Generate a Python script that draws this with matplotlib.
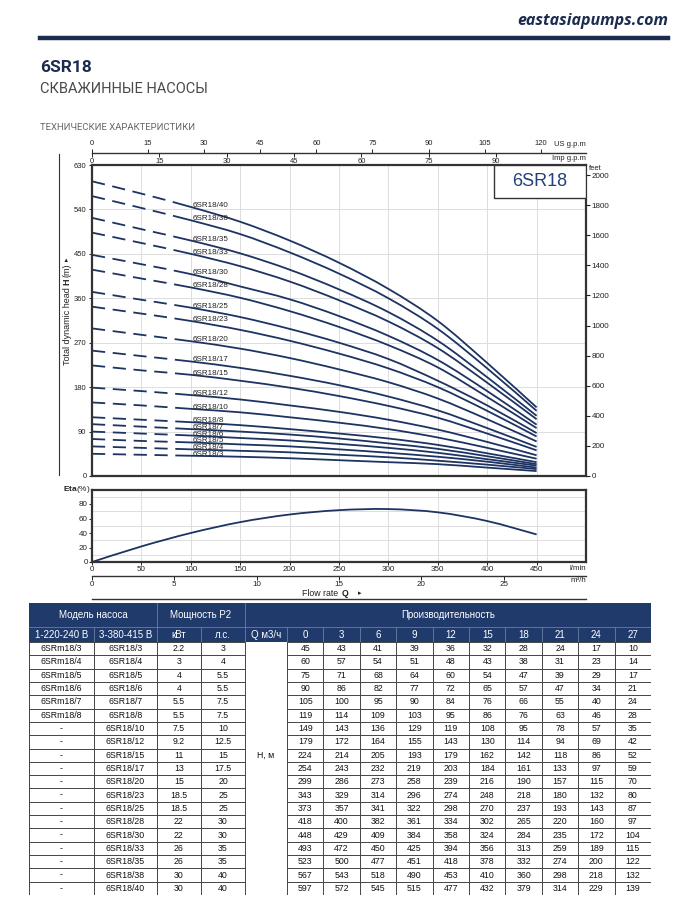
import matplotlib
matplotlib.use('Agg')
import matplotlib.pyplot as plt
from matplotlib.patches import Rectangle, PathPatch
from matplotlib.lines import Line2D
from matplotlib.path import Path
import numpy as np

# ---------------- data ----------------
q_m3h = [0, 3, 6, 9, 12, 15, 18, 21, 24, 27]
models_1ph = ['6SRm18/3', '6SRm18/4', '6SRm18/5', '6SRm18/6', '6SRm18/7', '6SRm18/8'] + ['-'] * 13
models_3ph = ['6SR18/3', '6SR18/4', '6SR18/5', '6SR18/6', '6SR18/7', '6SR18/8', '6SR18/10',
              '6SR18/12', '6SR18/15', '6SR18/17', '6SR18/20', '6SR18/23', '6SR18/25',
              '6SR18/28', '6SR18/30', '6SR18/33', '6SR18/35', '6SR18/38', '6SR18/40']
power_kw = ['2.2', '3', '4', '4', '5.5', '5.5', '7.5', '9.2', '11', '13', '15', '18.5', '18.5',
            '22', '22', '26', '26', '30', '30']
power_hp = ['3', '4', '5.5', '5.5', '7.5', '7.5', '10', '12.5', '15', '17.5', '20', '25', '25',
            '30', '30', '35', '35', '40', '40']
head_m = [
    [45, 43, 41, 39, 36, 32, 28, 24, 17, 10],
    [60, 57, 54, 51, 48, 43, 38, 31, 23, 14],
    [75, 71, 68, 64, 60, 54, 47, 39, 29, 17],
    [90, 86, 82, 77, 72, 65, 57, 47, 34, 21],
    [105, 100, 95, 90, 84, 76, 66, 55, 40, 24],
    [119, 114, 109, 103, 95, 86, 76, 63, 46, 28],
    [149, 143, 136, 129, 119, 108, 95, 78, 57, 35],
    [179, 172, 164, 155, 143, 130, 114, 94, 69, 42],
    [224, 214, 205, 193, 179, 162, 142, 118, 86, 52],
    [254, 243, 232, 219, 203, 184, 161, 133, 97, 59],
    [299, 286, 273, 258, 239, 216, 190, 157, 115, 70],
    [343, 329, 314, 296, 274, 248, 218, 180, 132, 80],
    [373, 357, 341, 322, 298, 270, 237, 193, 143, 87],
    [418, 400, 382, 361, 334, 302, 265, 220, 160, 97],
    [448, 429, 409, 384, 358, 324, 284, 235, 172, 104],
    [493, 472, 450, 425, 394, 356, 313, 259, 189, 115],
    [523, 500, 477, 451, 418, 378, 332, 274, 200, 122],
    [567, 543, 518, 490, 453, 410, 360, 298, 218, 132],
    [597, 572, 545, 515, 477, 432, 379, 314, 229, 139],
]
eta_pct = [0, 21.5, 40, 55, 65.5, 71.5, 73, 68.5, 56.5, 38]
h_ticks = [0, 90, 180, 270, 360, 450, 540, 630]
feet_ticks = [0, 200, 400, 600, 800, 1000, 1200, 1400, 1600, 1800, 2000]
us_gpm_ticks = [0, 15, 30, 45, 60, 75, 90, 105, 120]
imp_gpm_ticks = [0, 15, 30, 45, 60, 75, 90]
lmin_ticks = [0, 50, 100, 150, 200, 250, 300, 350, 400, 450]
m3h_ticks = [0, 5, 10, 15, 20, 25]
eta_ticks = [0, 20, 40, 60, 80]

q_lmin = [q * 1000 / 60 for q in q_m3h]

# ---------------- style ----------------
plt.rcParams['font.family'] = ['Liberation Sans', 'DejaVu Sans']
plt.rcParams['mathtext.fontset'] = 'custom'
plt.rcParams['mathtext.rm'] = 'Liberation Sans'
plt.rcParams['mathtext.bf'] = 'Liberation Sans:bold'
plt.rcParams['lines.scale_dashes'] = False

W, H = 687, 900
fig = plt.figure(figsize=(W / 100, H / 100), dpi=100)
fig.patch.set_facecolor('white')


def fx(p):
    return p / W


def fy(p):
    return 1 - p / H


def box(l, t, r, b):
    return [fx(l), fy(b), fx(r) - fx(l), fy(t) - fy(b)]


def smooth_path(xs, ys):
    """Catmull-Rom curve through the data points, expressed as cubic Bezier segments."""
    p = np.column_stack([xs, ys]).astype(float)
    ext = np.vstack([p[0], p, p[-1]])
    verts = [p[0]]
    codes = [Path.MOVETO]
    for i in range(len(p) - 1):
        p0, p1, p2, p3 = ext[i], ext[i + 1], ext[i + 2], ext[i + 3]
        verts += [p1 + (p2 - p0) / 6, p2 - (p3 - p1) / 6, p2]
        codes += [Path.CURVE4] * 3
    return Path(verts, codes)


NAVY = '#1d3362'
DARK = '#1c2b50'
FRAME = '#333333'
GRID = '#dddddd'
HEAD = '#1f3a6b'
SEP = '#6a7ca4'
NARROW = ['Liberation Sans Narrow', 'Liberation Sans', 'DejaVu Sans']

# ---------------- page header ----------------
fig.text(fx(668), fy(21), 'eastasiapumps.com', ha='right', va='center', fontsize=11.5,
         fontweight='bold', fontstyle='italic', color=DARK, family=['Open Sans', 'DejaVu Sans'])
fig.add_artist(Line2D([fx(40), fx(668)], [fy(38), fy(38)], color=DARK, lw=3.2))
fig.text(fx(40), fy(68), '6SR18', ha='left', va='center', fontsize=12.5, fontweight='bold',
         color=DARK, family=['Roboto', 'DejaVu Sans'])
fig.text(fx(40), fy(89), 'СКВАЖИННЫЕ НАСОСЫ', ha='left', va='center', fontsize=10.5,
         color='#4a4a4a', family=['Roboto', 'DejaVu Sans'])
fig.text(fx(40), fy(127), 'ТЕХНИЧЕСКИЕ ХАРАКТЕРИСТИКИ', ha='left', va='center', fontsize=6.8,
         color='#666666', family=['Roboto', 'DejaVu Sans'])

# ---------------- head chart ----------------
ax = fig.add_axes(box(92, 165, 586, 476))
ax.set_xlim(0, 500)
ax.set_ylim(0, 630)
ax.set_xticks(np.arange(0, 501, 50))
ax.set_xticklabels([])
ax.tick_params(axis='x', length=0)
ax.set_yticks(h_ticks)
ax.tick_params(axis='y', labelsize=5.5, length=2.5, width=0.7, pad=1.5, colors='#222222')
ax.grid(True, color=GRID, lw=0.7)
ax.set_axisbelow(True)
for s in ax.spines.values():
    s.set_linewidth(1.6)
    s.set_color(FRAME)

dash = (0, (9.5, 5.5, 9.5, 5.5, 9.5, 5.5, 9.5, 5.5, 3000, 1))
for name, h in zip(models_3ph, head_m):
    ax.add_patch(PathPatch(smooth_path(q_lmin, h), facecolor='none', edgecolor=NAVY, lw=1.3,
                           linestyle=dash, capstyle='butt', joinstyle='round'))
    ax.text(q_lmin[2] + 2, h[2], name, fontsize=5.8, color='#222222', va='baseline', ha='left')

# model box
ax.add_patch(Rectangle((0.814, 0.894), 0.186, 0.106, transform=ax.transAxes, facecolor='white',
                       edgecolor=FRAME, lw=1.0, zorder=5))
ax.text(0.907, 0.947, '6SR18', transform=ax.transAxes, ha='center', va='center', fontsize=13,
        color='#24407a', zorder=6)

# feet axis
axr = ax.twinx()
axr.set_ylim(0, 630 * 3.28084)
axr.set_yticks(feet_ticks)
axr.tick_params(axis='y', labelsize=5.8, length=3, width=0.8, pad=1, colors='#222222')
for s in axr.spines.values():
    s.set_visible(False)
fig.text(fx(589), fy(168), 'feet', fontsize=5.5, ha='left', va='center', color='#222222')

# gpm axes
au = fig.add_axes([fx(92), fy(152.7), fx(586) - fx(92), 1e-5])
au.set_xlim(0, 500 / 3.785411784)
au.set_xticks(us_gpm_ticks)
au.xaxis.tick_top()
au.tick_params(axis='x', direction='out', length=3, width=0.7, labelsize=5.5, pad=1,
               colors='#222222')
au.set_yticks([])
for k in ['left', 'right', 'bottom']:
    au.spines[k].set_visible(False)
au.spines['top'].set_linewidth(1.0)
au.spines['top'].set_color(FRAME)
au.patch.set_alpha(0)

ai = fig.add_axes([fx(92), fy(152.7), fx(586) - fx(92), 1e-5], label='imp')
ai.set_xlim(0, 500 / 4.54609)
ai.set_xticks(imp_gpm_ticks)
ai.tick_params(axis='x', direction='out', length=3, width=0.7, labelsize=5.5, pad=1,
               colors='#222222')
ai.set_yticks([])
for s in ai.spines.values():
    s.set_visible(False)
ai.patch.set_alpha(0)

fig.text(fx(586), fy(145), 'US g.p.m', ha='right', va='center', fontsize=5.5, color='#222222')
fig.text(fx(586), fy(158), 'Imp g.p.m', ha='right', va='center', fontsize=5.5, color='#222222')

# decorative left rule
fig.add_artist(Line2D([fx(59), fx(59)], [fy(154), fy(475)], color=FRAME, lw=0.8))

# y label pieces
t1 = fig.text(fx(67), fy(365), 'Total dynamic head', rotation=90, ha='center', va='bottom',
              fontsize=6.5, color='#222222')
t2 = fig.text(0, 0, 'H', rotation=90, ha='center', va='bottom', fontsize=6.5,
              fontweight='bold', color='#222222')
t3 = fig.text(0, 0, '(m)', rotation=90, ha='center', va='bottom', fontsize=6.5, color='#222222')
t4 = fig.text(0, 0, '▸', rotation=90, ha='center', va='bottom', fontsize=5,
              family=['DejaVu Sans'], color='#222222')
fig.canvas.draw()
r = fig.canvas.get_renderer()


def place_above(prev, nxt, gap_px):
    bb = prev.get_window_extent(r)
    top = (bb.y1 + gap_px) / fig.dpi / fig.get_figheight()
    nxt.set_position((fx(67), top))


place_above(t1, t2, 2)
fig.canvas.draw()
place_above(t2, t3, 2)
fig.canvas.draw()
place_above(t3, t4, 2)

# ---------------- efficiency chart ----------------
ae = fig.add_axes(box(92, 489.5, 586, 562))
ae.set_xlim(0, 500)
ae.set_ylim(0, 100)
ae.set_xticks(lmin_ticks)
ae.set_yticks(eta_ticks)
ae.set_yticks(np.arange(0, 101, 10), minor=True)
ae.tick_params(axis='both', which='major', labelsize=5.8, length=2, width=0.7, pad=1,
               colors='#222222')
ae.tick_params(which='minor', length=0)
ae.grid(True, which='major', axis='x', color=GRID, lw=0.7)
ae.grid(True, which='minor', axis='y', color=GRID, lw=0.7)
ae.set_axisbelow(True)
for s in ae.spines.values():
    s.set_linewidth(1.6)
    s.set_color(FRAME)
ae.add_patch(PathPatch(smooth_path(q_lmin, eta_pct), facecolor='none', edgecolor=NAVY, lw=1.3,
                       capstyle='butt'))
fig.text(fx(63), fy(490), r'$\bf{Eta}$(%)', ha='left', va='center', fontsize=6,
         color='#222222')
fig.text(fx(586), fy(568.5), 'l/min', ha='right', va='center', fontsize=5.8, color='#222222')

am = fig.add_axes([fx(92), fy(575.7), fx(586) - fx(92), 1e-5], label='m3h')
am.set_xlim(0, 30)
am.set_xticks(m3h_ticks)
am.tick_params(axis='x', direction='out', length=3, width=0.7, labelsize=5.8, pad=1,
               colors='#222222')
am.set_yticks([])
for k in ['left', 'right', 'bottom']:
    am.spines[k].set_visible(False)
am.spines['top'].set_linewidth(1.0)
am.spines['top'].set_color(FRAME)
am.patch.set_alpha(0)
fig.text(fx(586), fy(581), 'm³/h', ha='right', va='center', fontsize=5.8, color='#222222')

fig.text(fx(302), fy(593), 'Flow rate', ha='left', va='center', fontsize=6.3, color='#222222')
fig.text(fx(342), fy(593), 'Q', ha='left', va='center', fontsize=6.3, fontweight='bold',
         color='#222222')
fig.text(fx(358), fy(593), '▸', ha='left', va='center', fontsize=5, family=['DejaVu Sans'],
         color='#222222')
fig.add_artist(Line2D([fx(92), fx(586)], [fy(598.5), fy(598.5)], color=FRAME, lw=1.0))

# ---------------- table ----------------
at = fig.add_axes(box(29, 603, 651, 895))
col_w = [64.7, 63.1, 44.2, 44.0, 42.0] + [36.4] * 10
edges = np.concatenate([[0], np.cumsum(col_w)])
TW = edges[-1]
h1, h2 = 24.0, 15.0
n = len(models_3ph)
TH = 292.0
rh = (TH - h1 - h2) / n
at.set_xlim(0, TW)
at.set_ylim(TH, 0)
at.axis('off')

at.add_patch(Rectangle((0, 0), TW, h1 + h2, facecolor=HEAD, edgecolor='none'))
at.plot([0, TW], [h1, h1], color=SEP, lw=0.6)
for e in [edges[2], edges[4]]:
    at.plot([e, e], [0, h1], color=SEP, lw=0.6)
for e in edges[1:-1]:
    at.plot([e, e], [h1, h1 + h2], color=SEP, lw=0.6)

hdr_kw = dict(ha='center', va='center', color='white', fontsize=7, family=NARROW)
at.text((edges[0] + edges[2]) / 2, h1 / 2, 'Модель насоса', **hdr_kw)
at.text((edges[2] + edges[4]) / 2, h1 / 2, 'Мощность Р2', **hdr_kw)
at.text((edges[4] + edges[15]) / 2, h1 / 2, 'Производительность', **hdr_kw)
sub = ['1-220-240 В', '3-380-415 В', 'кВт', 'л.с.', 'Q м3/ч'] + [str(q) for q in q_m3h]
for j, s in enumerate(sub):
    at.text((edges[j] + edges[j + 1]) / 2, h1 + h2 / 2, s, **hdr_kw)

cell_kw = dict(ha='center', va='center', color='#111111', fontsize=6.3, family=NARROW)
y0 = h1 + h2
for i in range(n):
    yc = y0 + (i + 0.5) * rh
    vals = [models_1ph[i], models_3ph[i], power_kw[i], power_hp[i]]
    for j, v in enumerate(vals):
        at.text((edges[j] + edges[j + 1]) / 2, yc, v, **cell_kw)
    for k, v in enumerate(head_m[i]):
        at.text((edges[5 + k] + edges[6 + k]) / 2, yc, str(v), **cell_kw)
at.text((edges[4] + edges[5]) / 2, y0 + 8.5 * rh, 'Н, м', **cell_kw)

LC = '#444444'
for i in range(n + 1):
    yy = y0 + i * rh
    at.plot([0, edges[4]], [yy, yy], color=LC, lw=0.7)
    at.plot([edges[5], TW], [yy, yy], color=LC, lw=0.7)
at.plot([edges[4], edges[5]], [TH, TH], color=LC, lw=0.7)
for e in edges:
    at.plot([e, e], [y0, TH], color=LC, lw=0.7)

fig.savefig('out.png', dpi=100, facecolor='white')
